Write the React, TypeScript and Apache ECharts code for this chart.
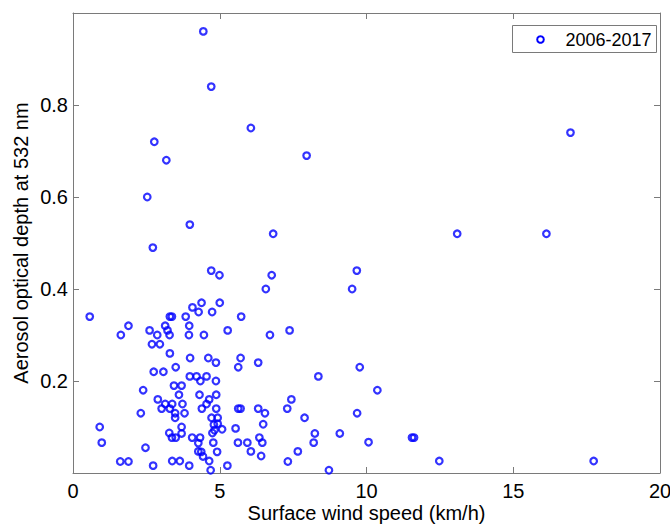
import React, { useEffect, useRef } from "react";
import * as echarts from "echarts";

const seriesName = "2006-2017";
const xTitle = "Surface wind speed (km/h)";
const yTitle = "Aerosol optical depth at 532 nm";

const windSpeed = [
  4.44, 4.71, 6.06, 2.77, 3.18, 7.96, 2.53, 3.98, 6.82, 2.72,
  4.71, 4.99, 6.77, 9.67, 16.95, 13.09, 16.13, 9.51, 6.57, 4.38,
  5.0, 4.07, 4.28, 4.74, 0.57, 3.3, 3.37, 3.84, 5.73, 1.89,
  3.14, 3.96, 2.61, 3.22, 5.27, 7.38, 1.63, 2.87, 3.29, 3.95,
  4.46, 6.71, 2.69, 2.96, 3.3, 3.99, 4.61, 5.71, 4.87, 6.31,
  3.5, 5.63, 9.77, 2.75, 3.08, 3.98, 4.21, 4.55, 8.36, 4.34,
  4.87, 3.44, 3.7, 2.39, 10.37, 3.61, 4.31, 4.88, 2.89, 4.64,
  7.44, 3.14, 3.38, 3.73, 4.55, 3.02, 3.3, 4.39, 4.88, 5.63,
  5.71, 6.31, 7.3, 2.31, 3.48, 3.8, 6.54, 9.68, 3.48, 4.72,
  4.93, 7.89, 0.91, 3.7, 4.8, 4.93, 5.08, 4.82, 5.54, 6.48,
  3.28, 3.7, 4.75, 8.24, 9.09, 3.37, 3.5, 4.06, 4.33, 6.35,
  11.55, 11.62, 10.07, 0.98, 4.27, 4.78, 5.62, 5.94, 6.45, 8.2,
  2.47, 4.27, 4.37, 4.43, 4.91, 6.06, 7.66, 6.41, 1.61, 1.89,
  3.38, 3.64, 4.64, 7.32, 12.48, 17.74, 2.73, 3.96, 5.26, 4.69,
  8.72,
];

const aod = [
  0.96, 0.84, 0.75, 0.72, 0.68, 0.69, 0.6, 0.54, 0.52, 0.49,
  0.44, 0.43, 0.43, 0.44, 0.74, 0.52, 0.52, 0.4, 0.4, 0.37,
  0.37, 0.36, 0.35, 0.35, 0.34, 0.34, 0.34, 0.34, 0.34, 0.32,
  0.32, 0.32, 0.31, 0.31, 0.31, 0.31, 0.3, 0.3, 0.3, 0.3,
  0.3, 0.3, 0.28, 0.28, 0.26, 0.25, 0.25, 0.25, 0.24, 0.24,
  0.23, 0.23, 0.23, 0.22, 0.22, 0.21, 0.21, 0.21, 0.21, 0.2,
  0.2, 0.19, 0.19, 0.18, 0.18, 0.17, 0.17, 0.17, 0.16, 0.16,
  0.16, 0.15, 0.15, 0.15, 0.15, 0.14, 0.14, 0.14, 0.14, 0.14,
  0.14, 0.14, 0.14, 0.13, 0.13, 0.13, 0.13, 0.13, 0.12, 0.12,
  0.12, 0.12, 0.1, 0.1, 0.105, 0.107, 0.095, 0.093, 0.097, 0.106,
  0.087, 0.086, 0.087, 0.086, 0.086, 0.077, 0.077, 0.077, 0.077, 0.077,
  0.077, 0.077, 0.067, 0.066, 0.065, 0.066, 0.066, 0.066, 0.066, 0.066,
  0.055, 0.047, 0.046, 0.036, 0.046, 0.047, 0.047, 0.037, 0.025, 0.025,
  0.026, 0.026, 0.026, 0.025, 0.026, 0.026, 0.016, 0.016, 0.016, 0.006,
  0.006,
];

const xTicks = { min: 0, max: 20, interval: 5 };
const yTicks = { min: 0, max: 1, interval: 0.2 };

const FONT = "Liberation Sans, Arial, sans-serif";
const AXIS_GRAY = "#7a7a7a";
const MARKER_BLUE = "#0000ff";

export default function App() {
  const ref = useRef<HTMLDivElement>(null);

  useEffect(() => {
    if (!ref.current) return;
    const chart = echarts.init(ref.current, undefined, { renderer: "svg" });
    const points = windSpeed.map((w, i) => [w, aod[i]]);

    const lineStyle = { color: AXIS_GRAY, width: 1 };
    const tick = { show: true, inside: true, length: 6, lineStyle };
    const axisLine = { show: true, onZero: false, lineStyle };

    chart.setOption({
      animation: false,
      backgroundColor: "#ffffff",
      textStyle: { fontFamily: FONT },
      grid: {
        left: 73,
        right: 10,
        top: 13,
        bottom: 51,
        containLabel: false,
        outerBoundsMode: "none",
      },
      graphic: [
        {
          type: "group",
          right: 13,
          top: 25,
          z: 100,
          children: [
            {
              type: "rect",
              shape: { x: 0, y: 0, width: 144, height: 27 },
              style: { fill: "#ffffff", stroke: AXIS_GRAY, lineWidth: 1 },
            },
            {
              type: "circle",
              shape: { cx: 28, cy: 14, r: 3.3 },
              style: { fill: "none", stroke: MARKER_BLUE, lineWidth: 2 },
            },
            {
              type: "text",
              x: 53,
              y: 14,
              style: {
                text: seriesName,
                fill: "#000",
                font: `18px ${FONT}`,
                verticalAlign: "middle",
                align: "left",
              },
            },
          ],
        },
      ],
      xAxis: [
        {
          type: "value",
          position: "bottom",
          min: xTicks.min,
          max: xTicks.max,
          interval: xTicks.interval,
          axisLine,
          axisTick: tick,
          splitLine: { show: false },
          axisLabel: { color: "#000", fontSize: 20, fontFamily: FONT, margin: 8 },
          name: xTitle,
          nameLocation: "middle",
          nameGap: 30,
          nameMoveOverlap: false,
          nameTextStyle: { color: "#000", fontSize: 20, fontFamily: FONT, lineHeight: 20 },
        },
        {
          type: "value",
          position: "top",
          min: xTicks.min,
          max: xTicks.max,
          interval: xTicks.interval,
          axisLine,
          axisTick: tick,
          splitLine: { show: false },
          axisLabel: { show: false },
        },
      ],
      yAxis: [
        {
          type: "value",
          position: "left",
          min: yTicks.min,
          max: yTicks.max,
          interval: yTicks.interval,
          axisLine,
          axisTick: tick,
          splitLine: { show: false },
          axisLabel: {
            color: "#000",
            fontSize: 20,
            fontFamily: FONT,
            margin: 5,
            formatter: (v: number) =>
              Math.abs(v) < 1e-9 || Math.abs(v - 1) < 1e-9 ? "" : v.toFixed(1),
          },
          name: yTitle,
          nameLocation: "middle",
          nameGap: 42,
          nameMoveOverlap: false,
          nameTextStyle: { color: "#000", fontSize: 20, fontFamily: FONT },
        },
        {
          type: "value",
          position: "right",
          min: yTicks.min,
          max: yTicks.max,
          interval: yTicks.interval,
          axisLine,
          axisTick: tick,
          splitLine: { show: false },
          axisLabel: { show: false },
        },
      ],
      series: [
        {
          name: seriesName,
          type: "scatter",
          xAxisIndex: 0,
          yAxisIndex: 0,
          data: points,
          symbol: "circle",
          symbolSize: 6.6,
          itemStyle: { color: "rgba(0,0,0,0)", borderColor: MARKER_BLUE, borderWidth: 2.2 },
          emphasis: { disabled: true },
          clip: false,
        },
      ],
    });

    return () => chart.dispose();
  }, []);

  return (
    <div
      ref={ref}
      style={{ position: "fixed", left: 0, top: 0, width: 670, height: 524, background: "#fff" }}
    />
  );
}
